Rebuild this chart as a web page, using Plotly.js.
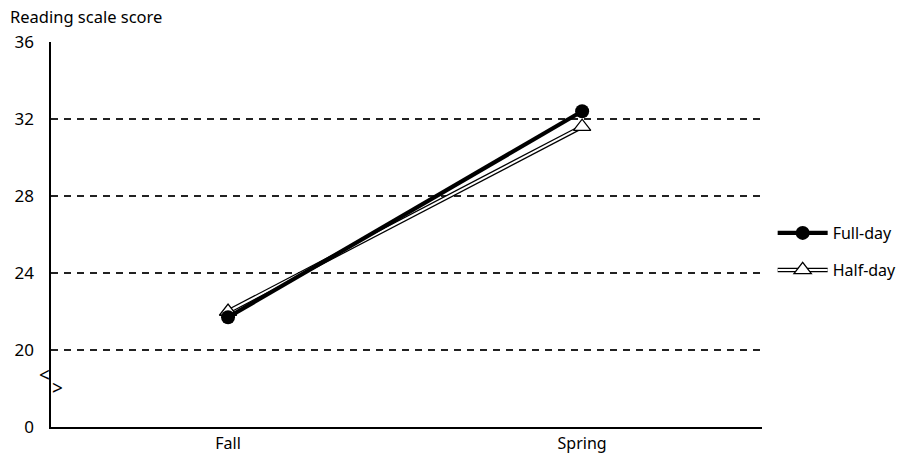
<!DOCTYPE html>
<html>
<head>
<meta charset="utf-8">
<script src="https://cdn.plot.ly/plotly-3.0.1.min.js"></script>
<style>html,body{margin:0;padding:0;background:#fff;}#chart{width:907px;height:455px;}</style>
</head>
<body>
<div id="chart"></div>
<script>
// Data
var seasons = ['Fall', 'Spring'];
var seasonPos = [0, 1];
var fullDay = [21.7, 32.4];
var halfDay = [22.0, 31.6];
// Broken axis: the "0" tick sits at 16 on the drawn scale
var yTickVals = [16, 20, 24, 28, 32, 36];
var yTickText = ['0', '20', '24', '28', '32', '36'];

var FONT = 'Noto Sans, Open Sans, sans-serif';

var traces = [
  { // half-day outline (black, under)
    x: seasonPos, y: halfDay, name: 'Half-day', type: 'scatter', mode: 'lines',
    line: {color: '#000', width: 4.5}, legend: 'legend2', hoverinfo: 'skip'
  },
  { // half-day white core with triangle markers
    x: seasonPos, y: halfDay, name: 'Half-day', type: 'scatter', mode: 'lines+markers',
    line: {color: '#fff', width: 2},
    marker: {symbol: 'triangle-up', size: 15, color: '#fff', line: {color: '#000', width: 1.3}},
    legend: 'legend3'
  },
  {
    x: seasonPos, y: fullDay, name: 'Full-day', type: 'scatter', mode: 'lines+markers',
    line: {color: '#000', width: 4.2},
    marker: {symbol: 'circle', size: 14, color: '#000'},
    legend: 'legend'
  }
];

var legendCommon = {
  xref: 'paper', yref: 'paper', xanchor: 'left', yanchor: 'middle',
  bgcolor: 'rgba(0,0,0,0)', borderwidth: 0, itemwidth: 50,
  font: {family: FONT, size: 16, color: '#000'}, tracegroupgap: 0
};

var LEGX = 1.015;

var layout = {
  width: 907, height: 455,
  margin: {l: 51, r: 145, t: 42, b: 28, pad: 0, autoexpand: false},
  paper_bgcolor: '#fff', plot_bgcolor: '#fff',
  font: {family: FONT, color: '#000'},
  title: {
    text: 'Reading scale score',
    font: {family: FONT, size: 16.5, color: '#000'},
    xref: 'container', yref: 'container',
    x: 10 / 907, xanchor: 'left', y: 1 - 17 / 455, yanchor: 'middle'
  },
  xaxis: {
    range: [-0.5, 1.508], tickvals: seasonPos, ticktext: seasons,
    showgrid: false, zeroline: false, showline: true, linecolor: '#000', linewidth: 1.6,
    ticks: 'outside', ticklen: 1, tickcolor: 'rgba(0,0,0,0)',
    tickfont: {family: FONT, size: 16, color: '#000'}, fixedrange: true
  },
  yaxis: {
    range: [16, 36], tickvals: yTickVals, ticktext: yTickText,
    showgrid: true, gridcolor: '#222', gridwidth: 1.3, griddash: '7px,6px',
    zeroline: false, showline: true, linecolor: '#000', linewidth: 1.6,
    ticks: 'outside', ticklen: 12, tickcolor: 'rgba(0,0,0,0)',
    tickfont: {family: FONT, size: 17, color: '#000'}, fixedrange: true
  },
  legend: Object.assign({}, legendCommon, {x: LEGX, y: (427 - 233) / 385}),
  legend2: Object.assign({}, legendCommon, {x: LEGX, y: (427 - 270) / 385,
    font: {family: FONT, size: 16, color: 'rgba(0,0,0,0)'}}),
  legend3: Object.assign({}, legendCommon, {x: LEGX, y: (427 - 270) / 385}),
  showlegend: true,
  annotations: [
    {xref: 'paper', yref: 'y', x: (44 - 51) / 711, y: 18.7, text: '<', showarrow: false,
     font: {family: FONT, size: 19, color: '#000'}, xanchor: 'center', yanchor: 'middle'},
    {xref: 'paper', yref: 'y', x: (57 - 51) / 711, y: 18.05, text: '>', showarrow: false,
     font: {family: FONT, size: 19, color: '#000'}, xanchor: 'center', yanchor: 'middle'}
  ]
};

Plotly.newPlot('chart', traces, layout, {displayModeBar: false, staticPlot: true});
</script>
</body>
</html>
